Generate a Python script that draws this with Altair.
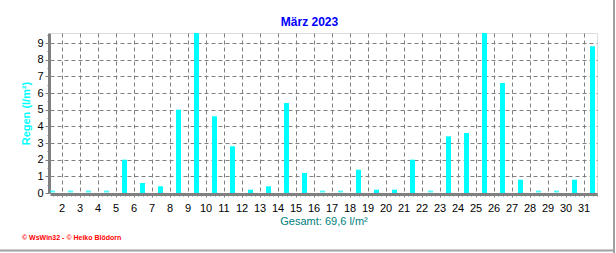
import altair as alt
import pandas as pd
import numpy as np

# ---- data ----
days = list(range(1, 32))
rain = [0, 0, 0, 0, 2.0, 0.6, 0.4, 5.0, 9.6, 4.6, 2.8, 0.2, 0.4, 5.4, 1.2, 0, 0,
        1.4, 0.2, 0.2, 2.0, 0, 3.4, 3.6, 9.6, 6.6, 0.8, 0, 0, 0.8, 8.8]
x_labels = list(range(2, 32))
y_ticks = list(range(0, 10))
title_text = "März 2023"
y_title = "Regen  (l/m²)"
x_title = "Gesamt: 69,6 l/m²"
footer = "© WsWin32 - © Heiko Blödorn"

df = pd.DataFrame({"day": days, "rain": rain})

FONT = "Liberation Sans"
GRID = "#808080"
CYAN = "#00FFFF"

x_scale = alt.Scale(domain=[1.361, 31.75], nice=False, zero=False, padding=0)
y_scale = alt.Scale(domain=[0, 9.6], nice=False, padding=0)

x_minor = [float(v) for v in np.arange(1.5, 31.76, 0.25)]
y_minor = [float(v) for v in np.arange(0, 9.61, 0.5)]

base = alt.Chart(df).transform_calculate(pos="datum.day + 0.5")

bars = base.mark_bar(size=5, color=CYAN).encode(
    x=alt.X("pos:Q", scale=x_scale,
            axis=alt.Axis(values=x_labels, grid=True, gridDash=[4, 3], gridColor=GRID,
                          tickSize=3, tickColor=GRID, labelPadding=5, offset=1,
                          domainColor=GRID, domainWidth=3,
                          labelFont=FONT, labelFontSize=11, labelColor="black",
                          title=x_title, titleFont=FONT, titleFontSize=11,
                          titleFontWeight="normal", titleColor="#008080", titlePadding=2)),
    y=alt.Y("rain:Q", scale=y_scale,
            axis=alt.Axis(values=y_ticks, grid=True, gridDash=[4, 3], gridColor=GRID,
                          tickSize=4, tickColor=GRID, labelPadding=2, offset=1,
                          domainColor=GRID, domainWidth=3,
                          labelFont=FONT, labelFontSize=11, labelColor="black",
                          title=y_title, titleFont=FONT, titleFontSize=11,
                          titleFontWeight="bold", titleColor=CYAN, titlePadding=5)),
)

stubs = base.mark_tick(orient="horizontal", size=5, thickness=2, color=CYAN, yOffset=-1.5).encode(
    x=alt.X("pos:Q", scale=x_scale,
            axis=alt.Axis(values=x_minor, orient="bottom", grid=False, labels=False,
                          domain=False, tickSize=2, tickColor=GRID, offset=1, title=None)),
    y=alt.Y("zero:Q", scale=y_scale,
            axis=alt.Axis(values=y_minor, orient="left", grid=False, labels=False,
                          domain=False, tickSize=2, tickColor=GRID, offset=1, title=None)),
).transform_calculate(zero="0")

title_mark = alt.Chart(pd.DataFrame({"t": [title_text]})).mark_text(
    align="center", baseline="middle", font=FONT, fontSize=12, fontWeight="bold", color="#0000FF"
).encode(text="t:N", x=alt.value(259.5), y=alt.value(-11))

foot = alt.Chart(pd.DataFrame({"t": [footer]})).mark_text(
    align="left", baseline="middle", font=FONT, fontSize=7, fontWeight="bold", color="red"
).encode(text="t:N", x=alt.value(-28), y=alt.value(205))

frame_r = alt.Chart(pd.DataFrame({"a": [0]})).mark_rule(color="#a0a0a0", strokeWidth=2).encode(
    x=alt.value(564), y=alt.value(-33), y2=alt.value(220))
frame_b = alt.Chart(pd.DataFrame({"a": [0]})).mark_rule(color="#a0a0a0", strokeWidth=2).encode(
    x=alt.value(-50), x2=alt.value(565), y=alt.value(217.5))

chart = alt.layer(bars, stubs, title_mark, foot, frame_r, frame_b).resolve_axis(
    x="independent", y="independent"
).properties(
    width=547, height=160,
    autosize=alt.AutoSizeParams(type="none"),
    padding={"left": 50, "top": 33, "right": 19, "bottom": 60},
).configure_view(stroke="black", strokeWidth=1).configure(background="white")

chart.save("out.html", embed_options={"renderer": "svg", "actions": False})
